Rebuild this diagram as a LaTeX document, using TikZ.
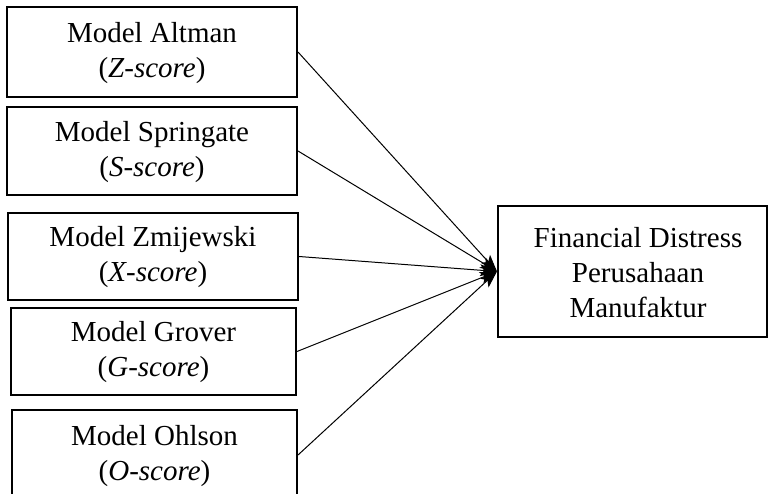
\documentclass[tikz,border=0pt]{standalone}
\usepackage{fontspec}
\setmainfont{Liberation Serif}
\usetikzlibrary{arrows.meta}
\begin{document}
\begin{tikzpicture}[x=1pt,y=-1pt,
  box/.style={draw=black, line width=2pt, rectangle, inner sep=0pt},
  txt/.style={align=center, inner sep=0pt, font=\fontsize{29}{35}\selectfont},
  conn/.style={line width=1pt, -{Stealth[length=17pt,width=12pt,inset=4pt]}}]
\clip (0,0) rectangle (769,494);
\fill[white] (0,0) rectangle (769,494);
\node[box, minimum width=290pt, minimum height=90pt] (b1) at (152,52) {};
\node[txt] (t1) at (152,53) {Model Altman\\(\textit{Z-score})};
\node[box, minimum width=290pt, minimum height=88pt] (b2) at (152,151) {};
\node[txt] (t2) at (152,152) {Model Springate\\(\textit{S-score})};
\node[box, minimum width=290pt, minimum height=87pt] (b3) at (153,256.5) {};
\node[txt] (t3) at (153,257) {Model Zmijewski\\(\textit{X-score})};
\node[box, minimum width=285pt, minimum height=87pt] (b4) at (153.5,351.5) {};
\node[txt] (t4) at (153.5,352) {Model Grover\\(\textit{G-score})};
\node[box, minimum width=285pt, minimum height=90pt] (b5) at (154.5,455) {};
\node[txt] (t5) at (154.5,456) {Model Ohlson\\(\textit{O-score})};
\node[box, minimum width=269pt, minimum height=131pt] (fd) at (632.5,271.5) {};
\node[txt] (tf) at (638,273) {Financial Distress\\Perusahaan\\Manufaktur};
\foreach \b in {b1,b2,b3,b4,b5}{
  \draw[conn] (\b.east) -- (fd.west);
}
\end{tikzpicture}
\end{document}
